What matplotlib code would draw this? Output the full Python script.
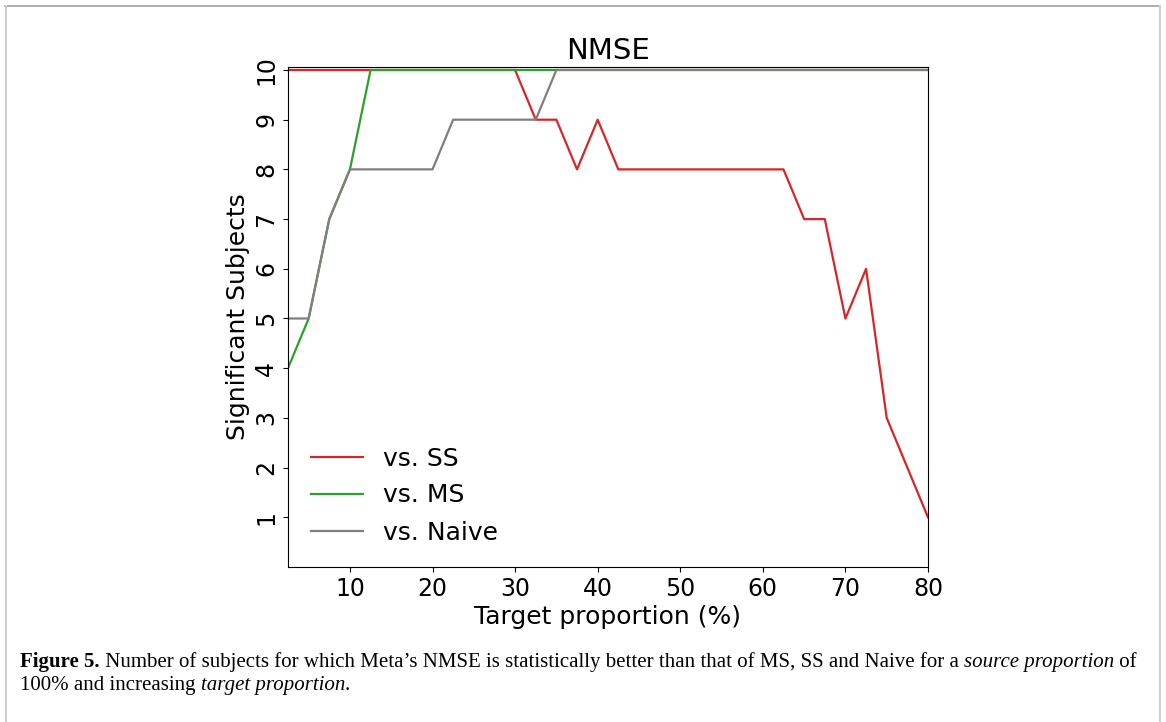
import matplotlib
matplotlib.use('Agg')
import matplotlib.pyplot as plt
from matplotlib.lines import Line2D

# target proportion (%)
target = [2.5, 5, 7.5, 10, 12.5, 15, 17.5, 20, 22.5, 25, 27.5, 30, 32.5, 35, 37.5, 40,
          42.5, 45, 47.5, 50, 52.5, 55, 57.5, 60, 62.5, 65, 67.5, 70, 72.5, 75, 77.5, 80]
vs_ss = [10, 10, 10, 10, 10, 10, 10, 10, 10, 10, 10, 10, 9, 9, 8, 9,
         8, 8, 8, 8, 8, 8, 8, 8, 8, 7, 7, 5, 6, 3, 2, 1]
vs_ms = [4, 5, 7, 8, 10, 10, 10, 10, 10, 10, 10, 10, 10, 10, 10, 10,
         10, 10, 10, 10, 10, 10, 10, 10, 10, 10, 10, 10, 10, 10, 10, 10]
vs_naive = [5, 5, 7, 8, 8, 8, 8, 8, 9, 9, 9, 9, 9, 10, 10, 10,
            10, 10, 10, 10, 10, 10, 10, 10, 10, 10, 10, 10, 10, 10, 10, 10]
xticks = [10, 20, 30, 40, 50, 60, 70, 80]
yticks = [1, 2, 3, 4, 5, 6, 7, 8, 9, 10]

W, H = 1166, 722
fig = plt.figure(figsize=(W / 100, H / 100), dpi=100)
ax = fig.add_axes([288 / W, 1 - 567 / H, (928 - 288) / W, (567 - 67) / H])

ax.plot(target, vs_ss, color='tab:red', lw=1.6, label='vs. SS')
ax.plot(target, vs_ms, color='tab:green', lw=1.6, label='vs. MS')
ax.plot(target, vs_naive, color='tab:gray', lw=1.6, label='vs. Naive')

ax.set_xlim(2.5, 80)
ax.set_ylim(0, 10.06)
ax.set_xticks(xticks)
ax.set_yticks(yticks)
ax.tick_params(labelsize=17)
for lab in ax.get_yticklabels():
    lab.set_rotation(90)
    lab.set_va('center')
ax.set_title('NMSE', fontsize=21, pad=6)
ax.set_xlabel('Target proportion (%)', fontsize=18, labelpad=3)
ax.set_ylabel('Significant Subjects', fontsize=18, labelpad=3)
ax.legend(loc='lower left', frameon=False, fontsize=18, handlelength=2.1,
          handletextpad=0.8, borderaxespad=0.5, labelspacing=0.52)

# page border
lc = '#a0a0a0'
fig.add_artist(Line2D([5 / W, 1160 / W], [1 - 6 / H, 1 - 6 / H], color=lc, lw=1.2))
fig.add_artist(Line2D([5.5 / W, 5.5 / W], [0, 1 - 6 / H], color='#cccccc', lw=1.4))
fig.add_artist(Line2D([1160 / W, 1160 / W], [0, 1 - 6 / H], color='#cccccc', lw=1.4))

# caption with mixed styles, pieces placed one after another
cap = dict(family='Liberation Serif', fontsize=15)
line1 = [('Figure 5.', 'bold', 'normal'),
         (' Number of subjects for which Meta\u2019s NMSE is statistically better than that of MS, SS and Naive for a ', 'normal', 'normal'),
         ('source proportion', 'normal', 'italic'),
         (' of', 'normal', 'normal')]
line2 = [('100% and increasing ', 'normal', 'normal'),
         ('target proportion', 'normal', 'italic'),
         ('.', 'normal', 'normal')]
fig.canvas.draw()
r = fig.canvas.get_renderer()
for y, pieces in [(1 - 667 / H, line1), (1 - 690 / H, line2)]:
    x = 20 / W
    for s, w, st in pieces:
        t = fig.text(x, y, s, fontweight=w, fontstyle=st, va='baseline', **cap)
        x = t.get_window_extent(r).x1 / W

fig.savefig('out.png', dpi=100)
